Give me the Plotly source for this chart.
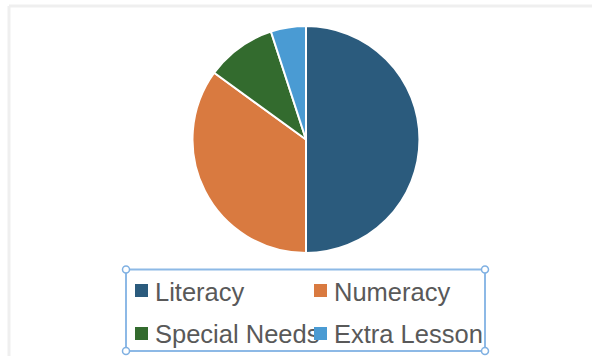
import plotly.graph_objects as go

# ---- data ----
categories = ["Literacy", "Numeracy", "Special Needs", "Extra Lesson"]
values = [50, 35, 10, 5]
colors = ["#2b5b7d", "#d97a40", "#336b2e", "#4a9bd3"]

W, H = 592, 356


def px(x):
    return x / W


def py(y):
    return 1 - y / H


# pie geometry (pixels)
cx, cy, r = 306, 139.5, 113.5

fig = go.Figure(
    go.Pie(
        labels=categories,
        values=values,
        marker=dict(colors=colors, line=dict(color="white", width=2)),
        sort=False,
        direction="clockwise",
        rotation=0,
        textinfo="none",
        showlegend=False,
        domain=dict(x=[px(cx - r), px(cx + r)], y=[py(cy + r), py(cy - r)]),
    )
)

shapes = []
annotations = []
squares = []

# chart frame shadow (top and left)
shapes.append(dict(type="line", xref="paper", yref="paper",
                   x0=px(9), x1=px(9), y0=py(6), y1=py(356),
                   line=dict(color="#efefef", width=3)))
shapes.append(dict(type="line", xref="paper", yref="paper",
                   x0=px(9), x1=px(592), y0=py(6), y1=py(6),
                   line=dict(color="#efefef", width=3)))

# custom legend: 2 columns x 2 rows
col_x = [135, 314]
row_y = [290.5, 333]
sq = 13
for i, (name, col) in enumerate(zip(categories, colors)):
    x0 = col_x[i % 2]
    yc = row_y[i // 2]
    annotations.append(dict(
        xref="paper", yref="paper", x=px(x0 + sq + 5), y=py(yc + 1),
        xanchor="left", yanchor="middle", showarrow=False, text=name,
        font=dict(family="Liberation Sans, Arial, sans-serif", size=25.5, color="#595959"),
    ))
    # legend swatch drawn as an annotation box so it sits above overflowing text
    squares.append(dict(
        xref="paper", yref="paper", x=px(x0), y=py(yc),
        xanchor="left", yanchor="middle", showarrow=False, text=" ",
        width=sq, height=sq, borderpad=0, borderwidth=0,
        bgcolor=col, font=dict(size=8),
    ))
annotations.extend(squares)

# selection box around legend
bx0, bx1, by0, by1 = 126, 485, 269.5, 351
shapes.append(dict(type="rect", xref="paper", yref="paper",
                   x0=px(bx0), x1=px(bx1), y0=py(by1), y1=py(by0),
                   line=dict(color="#8db9e6", width=2), fillcolor="rgba(0,0,0,0)"))
hr = 3.5
for (hx, hy) in [(bx0, by0), (bx1, by0), (bx0, by1), (bx1, by1)]:
    shapes.append(dict(type="circle", xref="paper", yref="paper",
                       x0=px(hx - hr), x1=px(hx + hr), y0=py(hy + hr), y1=py(hy - hr),
                       line=dict(color="#7fb0e2", width=1.5), fillcolor="white"))

fig.update_layout(
    width=W, height=H,
    margin=dict(l=0, r=0, t=0, b=0),
    paper_bgcolor="white",
    plot_bgcolor="white",
    shapes=shapes,
    annotations=annotations,
)

fig.write_html("out.html")
